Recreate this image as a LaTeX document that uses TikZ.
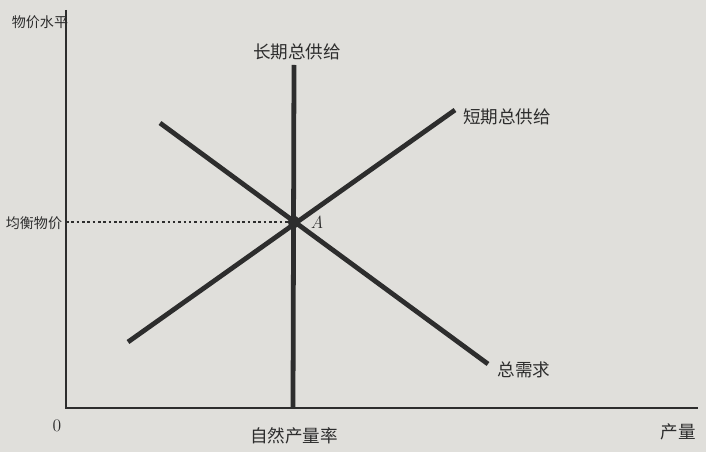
\documentclass[tikz,border=0pt]{standalone}
\usepackage{fontspec}
\newfontfamily\cjk{Noto Sans CJK SC}
\definecolor{paper}{RGB}{224,223,219}
\definecolor{ink}{RGB}{45,45,45}
\begin{document}
\begin{tikzpicture}[x=0.025cm,y=-0.025cm]
        \tikzstyle{every node}=[font=\cjk\fontsize{12.5}{14}\selectfont,text=ink,inner sep=1pt]
        \tikzstyle{small label}=[font=\cjk\fontsize{10}{12}\selectfont]
        \tikzstyle{axis}=[draw=ink,line width=1.4pt]
        \tikzstyle{curve}=[draw=ink,line width=3.4pt]
        \fill[paper] (0,0) rectangle (706,452);
        \useasboundingbox (0,0) rectangle (706,452);
        % axes
        \coordinate (O) at (66,408);
        \coordinate (ytop) at (66,10);
        \coordinate (xend) at (698,408);
        \draw[axis] (ytop) -- (O) -- (xend);
        \node (zero) at (57,426) {\rmfamily 0};
        \node[small label] (price) at (40,22) {物价水平};
        \node (output) at (678,432) {产量};
        % curves
        \coordinate (lrastop) at (294,65);
        \coordinate (lrasbot) at (293,408);
        \coordinate (sraslo) at (128,342);
        \coordinate (srashi) at (455,110);
        \coordinate (adhi) at (160,123);
        \coordinate (adlo) at (488,364);
        \draw[curve] (lrastop) -- (lrasbot);
        \draw[curve] (sraslo) -- (srashi);
        \draw[curve] (adhi) -- (adlo);
        \node (lras) at (297,52) {长期总供给};
        \node (sras) at (507,117) {短期总供给};
        \node (ad) at (524,370) {总需求};
        \node (natural) at (294,436) {自然产量率};
        % equilibrium
        \coordinate (A) at (294,222);
        \coordinate (yA) at (66,222);
        \draw[ink,line width=1.8pt,dotted] (yA) -- (A);
        \fill[ink] (A) circle (6);
        \node (Alabel) at (317,222) {\rmfamily\itshape A};
        \node[small label] (eqprice) at (34,223) {均衡物价};
    \end{tikzpicture}
\end{document}
